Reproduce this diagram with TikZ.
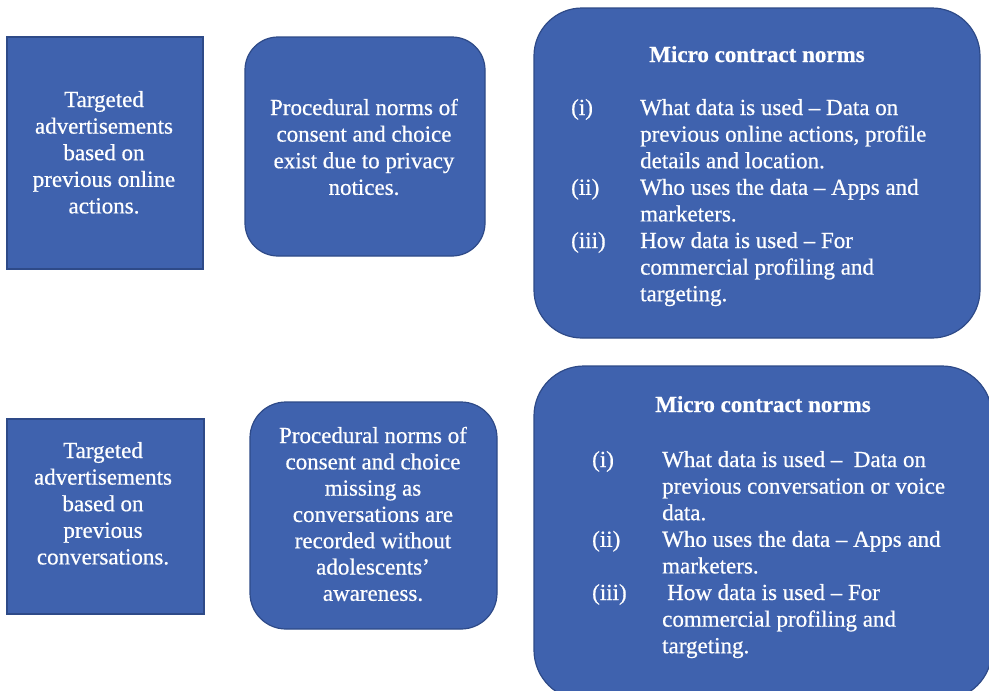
\documentclass[tikz,border=0pt]{standalone}
\usepackage{fontspec}
\setmainfont{Liberation Serif}[FakeBold=0.6, BoldFeatures={FakeBold=0.6}]
\usepackage{tikz}
\usetikzlibrary{positioning}
\definecolor{boxblue}{HTML}{3F62AE}
\definecolor{boxedge}{HTML}{2E4A88}
\tikzset{
 plainbox/.style={draw=boxedge, line width=1.2pt, fill=boxblue, rectangle, inner sep=0},
 roundbox/.style={plainbox, rounded corners=#1},
 boxtext/.style={text=white, font=\fontsize{23}{26.6}\selectfont, inner sep=0, anchor=base},
 listtext/.style={boxtext, anchor=base west}
}

\begin{document}
\begin{tikzpicture}[x=1pt, y=-1pt]
\useasboundingbox (0,0) rectangle (989,691);
\clip (0,0) rectangle (989,691);
\fill[white] (0,0) rectangle (989,691);

% first row
\node[plainbox, minimum width=196, minimum height=232] (adsA) at (105,153) {};
\node[roundbox=33, minimum width=240, minimum height=219] (procA) at (365,146.5) {};
\node[roundbox=48, minimum width=446, minimum height=330] (microA) at (757,173) {};

\node[boxtext] (adsAtext) at (104,107) {\begin{tabular}[t]{@{}c@{}}Targeted\\advertisements\\based on\\previous online\\actions.\end{tabular}};
\node[boxtext] (procAtext) at (364,115) {\begin{tabular}[t]{@{}c@{}}Procedural norms of\\consent and choice\\exist due to privacy\\notices.\end{tabular}};
\node[boxtext, font=\fontsize{23}{26.6}\selectfont\bfseries] (microAtitle) at (757,62) {Micro contract norms};
\node[listtext] (microAlist) at (571,115) {\begin{tabular}[t]{@{}p{69pt}@{}l@{}}
(i) & What data is used -- Data on\\
 & previous online actions, profile\\
 & details and location.\\
(ii) & Who uses the data -- Apps and\\
 & marketers.\\
(iii) & How data is used -- For\\
 & commercial profiling and\\
 & targeting.
\end{tabular}};

% second row
\node[plainbox, minimum width=197, minimum height=195] (adsB) at (105.5,516.5) {};
\node[roundbox=36, minimum width=247, minimum height=227] (procB) at (373.5,515.5) {};
\node[roundbox=50, minimum width=458, minimum height=334] (microB) at (763,533) {};

\node[boxtext] (adsBtext) at (103,458) {\begin{tabular}[t]{@{}c@{}}Targeted\\advertisements\\based on\\previous\\conversations.\end{tabular}};
\node[boxtext, font=\fontsize{23}{26.3}\selectfont] (procBtext) at (373,443) {\begin{tabular}[t]{@{}c@{}}Procedural norms of\\consent and choice\\missing as\\conversations are\\recorded without\\adolescents'\\awareness.\end{tabular}};
\node[boxtext, font=\fontsize{23}{26.6}\selectfont\bfseries] (microBtitle) at (763,412) {Micro contract norms};
\node[listtext] (microBlist) at (592,467) {\begin{tabular}[t]{@{}p{70pt}@{}l@{}}
(i) & What data is used --\ \ Data on\\
 & previous conversation or voice\\
 & data.\\
(ii) & Who uses the data -- Apps and\\
 & marketers.\\
(iii) & \hspace{5pt}How data is used -- For\\
 & commercial profiling and\\
 & targeting.
\end{tabular}};
\end{tikzpicture}
\end{document}
